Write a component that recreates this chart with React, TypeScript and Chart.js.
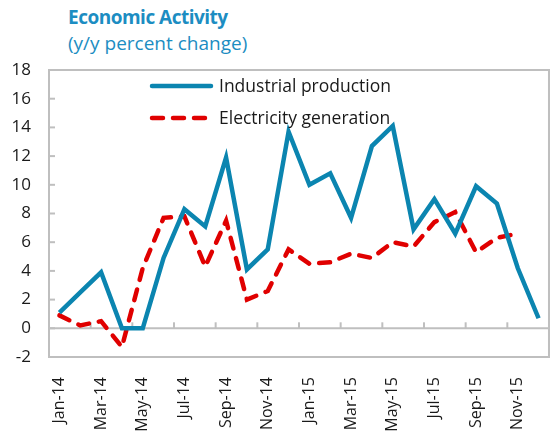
import React, { useEffect, useRef } from "react";
import { Chart, registerables } from "chart.js";

Chart.register(...registerables);

const months = [
  "Jan-14", "Feb-14", "Mar-14", "Apr-14", "May-14", "Jun-14", "Jul-14", "Aug-14", "Sep-14", "Oct-14", "Nov-14", "Dec-14",
  "Jan-15", "Feb-15", "Mar-15", "Apr-15", "May-15", "Jun-15", "Jul-15", "Aug-15", "Sep-15", "Oct-15", "Nov-15", "Dec-15",
];

const industrialProduction = [
  1.1, 2.5, 3.9, 0.0, 0.0, 4.9, 8.3, 7.1, 11.9, 4.1, 5.5, 13.7,
  10.0, 10.8, 7.7, 12.7, 14.1, 6.9, 9.0, 6.6, 9.9, 8.7, 4.2, 0.7,
];

const electricityGeneration = [
  0.9, 0.2, 0.5, -1.3, 4.2, 7.7, 7.8, 4.3, 7.5, 2.0, 2.6, 5.5,
  4.5, 4.6, 5.2, 4.9, 6.0, 5.7, 7.4, 8.1, 5.3, 6.3, 6.6, null,
];

const seriesNames = ["Industrial production", "Electricity generation"];
const yMin = -2;
const yMax = 18;
const yStep = 2;

const BLUE = "#0B85B0";
const RED = "#E00000";
const AXIS = "#BFBFBF";
const TEXT = "#1A1A1A";
const FONT = "'Open Sans', 'Noto Sans', sans-serif";

const framePlugin = {
  id: "frame",
  beforeDatasetsDraw(chart: any) {
    const { ctx, chartArea, scales } = chart;
    const x = scales.x;
    const y = scales.y;
    ctx.save();
    ctx.strokeStyle = AXIS;
    ctx.lineWidth = 2;
    ctx.strokeRect(chartArea.left, chartArea.top, chartArea.right - chartArea.left, chartArea.bottom - chartArea.top);
    const y0 = y.getPixelForValue(0);
    ctx.beginPath();
    ctx.moveTo(chartArea.left, y0);
    ctx.lineTo(chartArea.right, y0);
    ctx.stroke();
    for (let i = 1; i < months.length - 1; i += 2) {
      const px = (x.getPixelForValue(i) + x.getPixelForValue(i + 1)) / 2;
      ctx.beginPath();
      ctx.moveTo(px, y0);
      ctx.lineTo(px, y0 - 6);
      ctx.stroke();
    }
    for (let v = yMin; v <= yMax; v += yStep) {
      const py = y.getPixelForValue(v);
      ctx.beginPath();
      ctx.moveTo(chartArea.left, py);
      ctx.lineTo(chartArea.left + 6, py);
      ctx.stroke();
    }
    ctx.restore();
  },
  afterDatasetsDraw(chart: any) {
    const { ctx } = chart;
    ctx.save();
    const items = [
      { name: seriesNames[0], color: BLUE, dash: [] as number[], y: 86 },
      { name: seriesNames[1], color: RED, dash: [11, 10], y: 118 },
    ];
    for (const it of items) {
      ctx.strokeStyle = it.color;
      ctx.lineWidth = 4.5;
      ctx.lineCap = "round";
      ctx.setLineDash(it.dash);
      ctx.beginPath();
      ctx.moveTo(152, it.y);
      ctx.lineTo(211, it.y);
      ctx.stroke();
      ctx.setLineDash([]);
      ctx.fillStyle = TEXT;
      ctx.font = `17.5px ${FONT}`;
      ctx.textBaseline = "middle";
      ctx.textAlign = "left";
      ctx.fillText(it.name, 219, it.y + 1);
    }
    ctx.restore();
  },
};

export default function App() {
  const canvasRef = useRef<HTMLCanvasElement | null>(null);

  useEffect(() => {
    if (!canvasRef.current) return;
    const chart = new Chart(canvasRef.current, {
      type: "line",
      data: {
        labels: months,
        datasets: [
          {
            label: seriesNames[0],
            data: industrialProduction,
            borderColor: BLUE,
            borderWidth: 4.5,
            pointRadius: 0,
            tension: 0,
            borderJoinStyle: "miter",
          },
          {
            label: seriesNames[1],
            data: electricityGeneration,
            borderColor: RED,
            borderWidth: 4.5,
            borderDash: [11, 10],
            borderCapStyle: "round",
            pointRadius: 0,
            tension: 0,
          },
        ],
      },
      options: {
        animation: false,
        responsive: false,
        maintainAspectRatio: false,
        layout: { padding: { left: 0, right: 11, top: 70, bottom: 0 } },
        plugins: {
          legend: { display: false },
          tooltip: { enabled: false },
          title: { display: false },
        },
        scales: {
          x: {
            offset: true,
            grid: { display: false },
            border: { display: false },
            ticks: {
              autoSkip: false,
              minRotation: 90,
              maxRotation: 90,
              padding: 12,
              color: TEXT,
              font: { family: FONT, size: 16 },
              callback: (_v: any, i: number) => (i % 2 === 0 ? months[i] : ""),
            },
            afterFit: (s: any) => {
              s.height = 75;
            },
          },
          y: {
            min: yMin,
            max: yMax,
            grid: { display: false, drawTicks: false },
            border: { display: false },
            ticks: {
              stepSize: yStep,
              padding: 18,
              color: TEXT,
              font: { family: FONT, size: 17 },
            },
            afterFit: (s: any) => {
              s.width = 49;
            },
          },
        },
      },
      plugins: [framePlugin],
    });
    return () => chart.destroy();
  }, []);

  return (
    <div style={{ position: "fixed", left: 0, top: 0, width: 570, height: 432, background: "#fff", overflow: "hidden" }}>
      <div
        style={{
          position: "absolute",
          left: 68,
          top: 4,
          fontFamily: FONT,
          fontWeight: 700,
          fontSize: 19,
          letterSpacing: -0.5,
          color: "#1C8DC2",
          lineHeight: "26px",
          whiteSpace: "nowrap",
        }}
      >
        Economic Activity
      </div>
      <div
        style={{
          position: "absolute",
          left: 68,
          top: 30,
          fontFamily: FONT,
          fontSize: 19,
          letterSpacing: 0,
          color: "#1C8DC2",
          lineHeight: "26px",
          whiteSpace: "nowrap",
        }}
      >
        (y/y percent change)
      </div>
      <canvas ref={canvasRef} width={570} height={432} style={{ position: "absolute", left: 0, top: 0 }} />
    </div>
  );
}
